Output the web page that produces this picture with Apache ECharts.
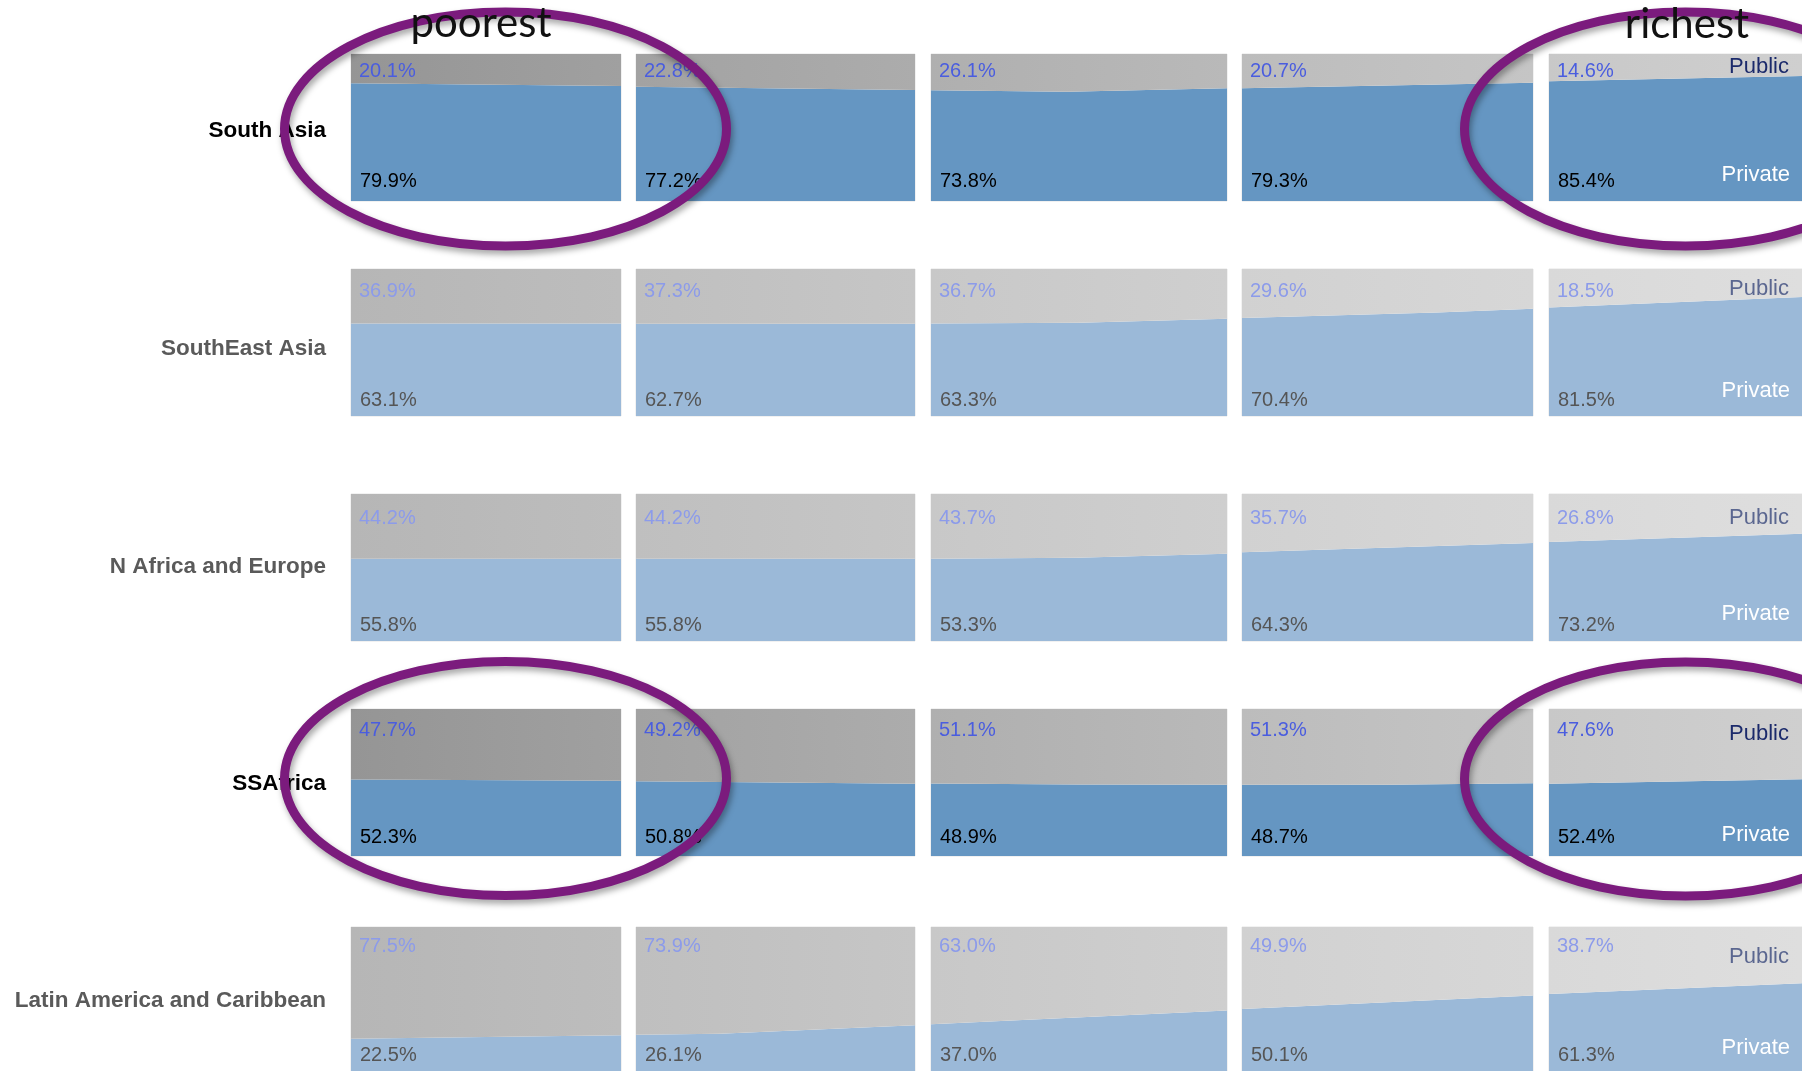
<!DOCTYPE html>
<html><head><meta charset="utf-8">
<script src="https://cdn.jsdelivr.net/npm/echarts@6/dist/echarts.min.js"></script>
<style>html,body{margin:0;padding:0;background:#fff}#c{width:1802px;height:1071px}</style>
</head><body><div id="c"></div>
<script>
// ---------------- DATA ----------------
const regions = ['South Asia', 'SouthEast Asia', 'N Africa and Europe', 'SSAfrica', 'Latin America and Caribbean'];
const quintileNotes = ['poorest', 'richest'];
const seriesNames = ['Public', 'Private'];

// printed shares (%), one list per region, quintiles poorest -> richest
const publicSouthAsia   = [20.1, 22.8, 26.1, 20.7, 14.6];
const privateSouthAsia  = [79.9, 77.2, 73.8, 79.3, 85.4];
const publicSEAsia      = [36.9, 37.3, 36.7, 29.6, 18.5];
const privateSEAsia     = [63.1, 62.7, 63.3, 70.4, 81.5];
const publicNAfrEur     = [44.2, 44.2, 43.7, 35.7, 26.8];
const privateNAfrEur    = [55.8, 55.8, 53.3, 64.3, 73.2];
const publicSSAfrica    = [47.7, 49.2, 51.1, 51.3, 47.6];
const privateSSAfrica   = [52.3, 50.8, 48.9, 48.7, 52.4];
const publicLatAm       = [77.5, 73.9, 63.0, 49.9, 38.7];
const privateLatAm      = [22.5, 26.1, 37.0, 50.1, 61.3];

// drawn private share along each quintile panel: [position within panel (0-1), private %]
const boundarySouthAsia = [
  [[0, 80.1], [1, 78.2]],
  [[0, 77.8], [1, 75.5]],
  [[0, 75.4], [0.46, 74.3], [1, 76.7]],
  [[0, 76.7], [1, 80.5]],
  [[0, 81.4], [1, 85.0]]
];
const boundarySEAsia = [
  [[0, 63.0], [1, 63.0]],
  [[0, 62.8], [1, 62.8]],
  [[0, 63.0], [0.5, 63.4], [1, 66.1]],
  [[0, 66.6], [0.67, 70.4], [1, 72.9]],
  [[0, 73.8], [1, 81.0]]
];
const boundaryNAfrEur = [
  [[0, 56.0], [1, 56.0]],
  [[0, 56.0], [1, 56.0]],
  [[0, 56.0], [0.49, 56.7], [1, 59.4]],
  [[0, 60.3], [1, 66.6]],
  [[0, 67.3], [1, 72.9]]
];
const boundarySSAfrica = [
  [[0, 52.0], [1, 51.2]],
  [[0, 50.9], [1, 49.1]],
  [[0, 49.3], [0.5, 48.6], [1, 48.4]],
  [[0, 48.4], [0.5, 48.4], [1, 49.5]],
  [[0, 49.1], [1, 52.2]]
];
const boundaryLatAm = [
  [[0, 22.4], [1, 24.8]],
  [[0, 25.2], [0.3, 25.9], [1, 31.8]],
  [[0, 32.4], [1, 42.0]],
  [[0, 43.1], [1, 52.4]],
  [[0, 53.5], [1, 61.0]]
];

const publicShare  = [publicSouthAsia, publicSEAsia, publicNAfrEur, publicSSAfrica, publicLatAm];
const privateShare = [privateSouthAsia, privateSEAsia, privateNAfrEur, privateSSAfrica, privateLatAm];
const boundaries   = [boundarySouthAsia, boundarySEAsia, boundaryNAfrEur, boundarySSAfrica, boundaryLatAm];
const highlightedRows = [true, false, false, true, false];

// ---------------- LAYOUT / STYLE ----------------
const colLeft  = [351, 636, 931, 1242, 1549];
const colWidth = [270, 279, 296, 291, 253];
const rowTop   = [54, 269, 494, 709, 927];
const rowH     = 147;
const regionLblOff = [3, 6, -1, 1, 2];
const pubLblOff  = [17, 22, 24, 21, 19];
const privLblOff = [20, 16, 16, 19, 16];
const pubLegOff  = [13, 20, 24, 25, 30];
const privLegOff = [26, 25, 27, 21, 23];

const FONT = "'Liberation Sans', Arial, Helvetica, sans-serif";
const blueStrong = '#6596c2', blueFaded = '#9bb9d8';
const grayLevels = [[149, 160], [162, 172], [175, 185], [188, 197], [200, 207]];
function gray(v, faded) {
  const g = Math.round(faded ? v + 0.31 * (255 - v) : v);
  const h = g.toString(16).padStart(2, '0');
  return '#' + h + h + h;
}

const grids = [], xAxes = [], yAxes = [], series = [];
for (let r = 0; r < 5; r++) {
  const faded = !highlightedRows[r];
  for (let c = 0; c < 5; c++) {
    const idx = r * 5 + c;
    grids.push({ left: colLeft[c], top: rowTop[r], width: colWidth[c], height: rowH,
      show: true, borderColor: '#e4e4e4', borderWidth: 1, backgroundColor: 'transparent' });
    xAxes.push({ type: 'value', gridIndex: idx, min: 0, max: 1, show: false });
    yAxes.push({ type: 'value', gridIndex: idx, min: 0, max: 100, show: false });
    series.push({
      name: seriesNames[1], type: 'line', xAxisIndex: idx, yAxisIndex: idx,
      data: boundaries[r][c], symbol: 'none', silent: true,
      lineStyle: { width: 0, opacity: 0 },
      areaStyle: { origin: 'start', color: faded ? blueFaded : blueStrong, opacity: 1 }
    });
    series.push({
      name: seriesNames[0], type: 'line', xAxisIndex: idx, yAxisIndex: idx,
      data: boundaries[r][c], symbol: 'none', silent: true,
      lineStyle: { width: 0, opacity: 0 },
      areaStyle: { origin: 'end', opacity: 1, color: { type: 'linear', x: 0, y: 0, x2: 1, y2: 0,
        colorStops: [{ offset: 0, color: gray(grayLevels[c][0], faded) },
                     { offset: 1, color: gray(grayLevels[c][1], faded) }] } }
    });
  }
}

const chart = echarts.init(document.getElementById('c'), null, { renderer: 'canvas' });
chart.setOption({
  animation: false,
  backgroundColor: '#ffffff',
  grid: grids, xAxis: xAxes, yAxis: yAxes, series: series
});

// ---------------- TEXT & ANNOTATIONS ----------------
const graphics = [];
for (let r = 0; r < 5; r++) {
  const faded = !highlightedRows[r];
  const mid = chart.convertToPixel({ gridIndex: r * 5 }, [0, 50]);
  graphics.push({ type: 'text', z: 10, x: 326, y: mid[1] + regionLblOff[r], silent: true,
    style: { text: regions[r], font: "bold 22.5px " + FONT, fill: faded ? '#5a5a5a' : '#000',
      textAlign: 'right', textVerticalAlign: 'middle' } });
  for (let c = 0; c < 5; c++) {
    const idx = r * 5 + c;
    const tl = chart.convertToPixel({ gridIndex: idx }, [0, 100]);
    const bl = chart.convertToPixel({ gridIndex: idx }, [0, 0]);
    graphics.push({ type: 'text', z: 10, x: tl[0] + 8, y: tl[1] + pubLblOff[r], silent: true,
      style: { text: publicShare[r][c].toFixed(1) + '%', font: "20px " + FONT,
        fill: faded ? '#8c9bea' : '#4a5ddf', textAlign: 'left', textVerticalAlign: 'middle' } });
    graphics.push({ type: 'text', z: 10, x: bl[0] + 9, y: bl[1] - privLblOff[r], silent: true,
      style: { text: privateShare[r][c].toFixed(1) + '%', font: "20px " + FONT,
        fill: faded ? '#555555' : '#000000', textAlign: 'left', textVerticalAlign: 'middle' } });
  }
  const tr = chart.convertToPixel({ gridIndex: r * 5 + 4 }, [1, 100]);
  const br = chart.convertToPixel({ gridIndex: r * 5 + 4 }, [1, 0]);
  graphics.push({ type: 'text', z: 10, x: tr[0] - 13, y: tr[1] + pubLegOff[r], silent: true,
    style: { text: seriesNames[0], font: "22px " + FONT, fill: faded ? '#5b6790' : '#1b2a6b',
      textAlign: 'right', textVerticalAlign: 'middle' } });
  graphics.push({ type: 'text', z: 10, x: br[0] - 12, y: br[1] - privLegOff[r], silent: true,
    style: { text: seriesNames[1], font: "22px " + FONT, fill: '#ffffff',
      textAlign: 'right', textVerticalAlign: 'middle' } });
}

const ellipses = [
  { cx: 505.5, cy: 129, rx: 221, ry: 117 },
  { cx: 1685.5, cy: 129, rx: 221, ry: 117 },
  { cx: 505.5, cy: 778.5, rx: 221, ry: 117 },
  { cx: 1685.5, cy: 779, rx: 221, ry: 117 }
];
ellipses.forEach(function (e) {
  graphics.push({ type: 'ellipse', z: 20, silent: true, shape: e,
    style: { fill: null, stroke: '#7b1b7d', lineWidth: 9,
      shadowBlur: 6, shadowColor: 'rgba(0,0,0,0.35)', shadowOffsetX: 2, shadowOffsetY: 4 } });
});
graphics.push({ type: 'text', z: 25, x: 481, y: 23, silent: true,
  style: { text: quintileNotes[0], font: "42px Lato, 'Open Sans', sans-serif", fill: '#111',
    textAlign: 'center', textVerticalAlign: 'middle' } });
graphics.push({ type: 'text', z: 25, x: 1687, y: 24, silent: true,
  style: { text: quintileNotes[1], font: "42px Lato, 'Open Sans', sans-serif", fill: '#111',
    textAlign: 'center', textVerticalAlign: 'middle' } });

chart.setOption({ graphic: graphics });
</script></body></html>
